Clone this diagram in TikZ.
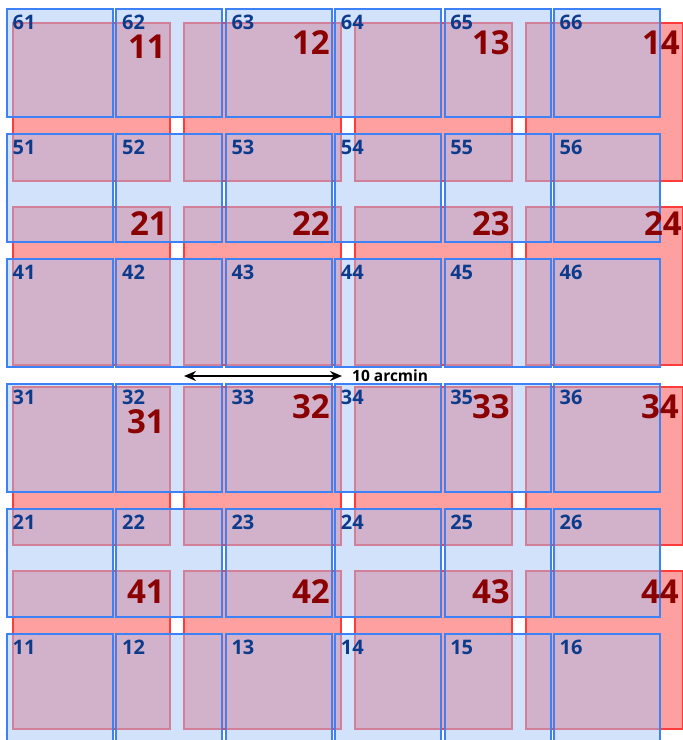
\documentclass[tikz,border=0pt]{standalone}
\usepackage{fontspec}
\setmainfont{Open Sans}
\usetikzlibrary{arrows.meta}
\definecolor{redfill}{RGB}{255,160,160}
\definecolor{rededge}{RGB}{255,60,60}
\definecolor{redtext}{RGB}{139,0,0}
\definecolor{bluefill}{RGB}{165,197,245}
\definecolor{blueedge}{RGB}{60,130,246}
\definecolor{bluetext}{RGB}{13,59,140}
\begin{document}
\begin{tikzpicture}[x=1pt,y=-1pt,
  redsq/.style={fill=redfill,draw=rededge,line width=1.8pt},
  bluesq/.style={fill=bluefill,fill opacity=0.5,draw=blueedge,line width=2pt},
  redlab/.style={anchor=east,inner sep=0pt,text=redtext,
    font=\bfseries\fontsize{33}{33}\selectfont},
  bluelab/.style={anchor=north west,inner sep=0pt,text=bluetext,
    font=\bfseries\fontsize{20}{20}\selectfont},
  scalebar/.style={{Stealth[length=12pt,width=10pt]}-{Stealth[length=12pt,width=10pt]},
    line width=2.5pt,black}]
\useasboundingbox (0,0) rectangle (683,740);
% red 4x4 grid
\foreach \r/\top in {1/23,2/207,3/387,4/571}
  \foreach \c in {1,...,4}
    \draw[redsq] ({13+171*(\c-1)},\top) rectangle ++(157,158);
% blue 6x6 grid, rows counted from the bottom
\foreach \r in {1,...,6}
  \foreach \c in {1,...,6}
    \draw[bluesq] ({7+109.4*(\c-1)},{9+125*(6-\r)}) rectangle ++(106,108);
\foreach \r in {1,...,6}
  \foreach \c in {1,...,6}
    \node[bluelab] (b\r\c) at ({12.5+109.4*(\c-1)},{15+125*(6-\r)}) {\r\c};
% red labels
\foreach \n/\x/\y in {11/166/47, 12/330/43, 13/510/43, 14/680/43,
  21/168/224, 22/330/224, 23/510/224, 24/682/224,
  31/165/422, 32/330/407, 33/510/407, 34/679/407,
  41/165/592, 42/330/592, 43/510/592, 44/679/592}
  \node[redlab] (r\n) at (\x,\y) {\n};
% scale bar
\coordinate (barL) at (184,376);
\coordinate (barR) at (342,376);
\draw[scalebar] (barL) -- (barR);
\node[anchor=west,inner sep=0pt,font=\bfseries\fontsize{15.5}{15.5}\selectfont]
  (barlab) at (352,376) {10 arcmin};
\end{tikzpicture}
\end{document}
